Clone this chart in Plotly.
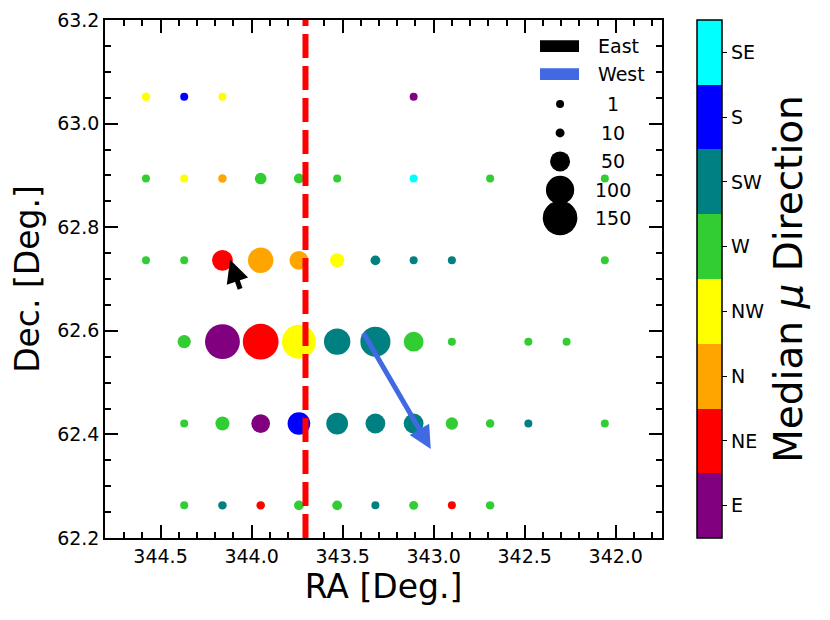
import plotly.graph_objects as go

# grid of field centres
ra_cols = [344.58, 344.37, 344.16, 343.95, 343.74, 343.53, 343.32,
           343.11, 342.90, 342.69, 342.48, 342.27, 342.06]
dec_rows = [63.052, 62.894, 62.736, 62.579, 62.421, 62.263]

directions = ['E', 'NE', 'N', 'NW', 'W', 'SW', 'S', 'SE']
dir_colors = ['purple', 'red', 'orange', 'yellow', 'limegreen', 'teal', 'blue', 'cyan']

# for every row: occupied columns, median direction, number of stars
row_cols = [
    [0, 1, 2, 7],
    [0, 1, 2, 3, 4, 5, 7, 9, 12],
    [0, 1, 2, 3, 4, 5, 6, 7, 8, 12],
    [1, 2, 3, 4, 5, 6, 7, 8, 10, 11],
    [1, 2, 3, 4, 5, 6, 7, 8, 9, 10, 12],
    [1, 2, 3, 4, 5, 6, 7, 8, 9],
]
row_dirs = [
    ['NW', 'S', 'NW', 'E'],
    ['W', 'NW', 'N', 'W', 'W', 'W', 'SE', 'W', 'W'],
    ['W', 'W', 'NE', 'N', 'N', 'NW', 'SW', 'SW', 'SW', 'W'],
    ['W', 'E', 'NE', 'NW', 'SW', 'SW', 'W', 'W', 'W', 'W'],
    ['W', 'W', 'E', 'S', 'SW', 'SW', 'SW', 'W', 'W', 'SW', 'W'],
    ['W', 'SW', 'NE', 'W', 'W', 'SW', 'W', 'NE', 'W'],
]
row_counts = [
    [9, 3, 1, 1],
    [2, 6, 9, 17, 13, 6, 4, 2, 2],
    [6, 6, 54, 81, 44, 25, 12, 3, 2, 2],
    [22, 152, 160, 144, 87, 113, 49, 7, 4, 4],
    [6, 25, 44, 64, 59, 49, 49, 19, 9, 4, 4],
    [4, 9, 9, 12, 12, 6, 10, 6, 9],
]

size_legend = [1, 10, 50, 100, 150]

# median proper motion arrows (tail -> tip)
east_tail = (344.060, 62.678)
east_tip = (344.118, 62.737)
west_tail = (343.390, 62.598)
west_tip = (343.016, 62.372)

ra_split = 343.704

FONT = "DejaVu Sans"
SIZEREF = 0.25

xs, ys, cs, ns = [], [], [], []
for dec, cols, dirs, cnts in zip(dec_rows, row_cols, row_dirs, row_counts):
    for c, d, n in zip(cols, dirs, cnts):
        xs.append(ra_cols[c])
        ys.append(dec)
        cs.append(directions.index(d))
        ns.append(n)

colorscale = []
for i, col in enumerate(dir_colors):
    colorscale.append([i / len(dir_colors), col])
    colorscale.append([(i + 1) / len(dir_colors), col])

fig = go.Figure()
fig.add_trace(go.Scatter(
    x=xs, y=ys, mode='markers', showlegend=False, hoverinfo='skip',
    marker=dict(size=ns, sizemode='area', sizeref=SIZEREF, sizemin=4, opacity=1,
                color=cs, colorscale=colorscale, cmin=-0.5, cmax=7.5,
                line=dict(width=0),
                colorbar=dict(
                    x=1.0634, xanchor='left', xpad=0, y=0.5, ypad=0,
                    len=1, thickness=25, outlinewidth=1.5, outlinecolor='black',
                    tickvals=list(range(len(directions))), ticktext=directions,
                    ticks='outside', ticklen=5, tickwidth=1.2, tickcolor='black',
                    tickfont=dict(family=FONT, size=19, color='black'),
                    title=dict(text='Median <i>μ</i> Direction', side='right',
                               font=dict(family=FONT, size=39, color='black')),
                ))))

# size legend drawn on a hidden overlay axis
leg_y = [0.838, 0.782, 0.727, 0.672, 0.618]
fig.add_trace(go.Scatter(
    x=[0.817] * len(size_legend), y=leg_y, mode='markers', xaxis='x2', yaxis='y2',
    showlegend=False, hoverinfo='skip',
    marker=dict(size=size_legend, sizemode='area', sizeref=SIZEREF, sizemin=4, opacity=1,
                color='black', line=dict(width=0))))
for val, yy in zip(size_legend, leg_y):
    fig.add_annotation(x=0.9125, y=yy, xref='x domain', yref='y domain', text=str(val),
                       showarrow=False, xanchor='center', yanchor='middle',
                       font=dict(family=FONT, size=19, color='black'))

for label, col, y0, y1 in [('East', 'black', 0.938, 0.961), ('West', 'royalblue', 0.884, 0.907)]:
    fig.add_shape(type='rect', xref='x domain', yref='y domain', x0=0.781, x1=0.851,
                  y0=y0, y1=y1, fillcolor=col, line=dict(width=0))
    fig.add_annotation(x=0.882, y=(y0 + y1) / 2, xref='x domain', yref='y domain', text=label,
                       showarrow=False, xanchor='left', yanchor='middle',
                       font=dict(family=FONT, size=19, color='black'))

# dividing line
fig.add_shape(type='line', xref='x', yref='y domain', x0=ra_split, x1=ra_split, y0=0, y1=1,
              line=dict(color='red', width=6, dash='24px,8px'))

for tail, tip, col in [(east_tail, east_tip, 'black'), (west_tail, west_tip, 'royalblue')]:
    fig.add_annotation(x=tip[0], y=tip[1], ax=tail[0], ay=tail[1], xref='x', yref='y',
                       axref='x', ayref='y', text='', showarrow=True, arrowhead=2,
                       arrowsize=0.9, arrowwidth=5, arrowcolor=col)

axis_style = dict(showline=True, linecolor='black', linewidth=1.5, mirror='allticks',
                  ticks='inside', ticklen=13, tickwidth=1.5, tickcolor='black',
                  showgrid=False, zeroline=False, tickformat='.1f', automargin=False,
                  tickfont=dict(family=FONT, size=19, color='black'))

fig.update_layout(
    width=830, height=620,
    margin=dict(l=97, r=176, t=12, b=90),
    plot_bgcolor='white', paper_bgcolor='white',
    xaxis=dict(range=[344.805, 341.746], dtick=0.5, tick0=342.0,
               minor=dict(ticks='inside', ticklen=6, tickwidth=1.5, tickcolor='black', dtick=0.1),
               title=dict(text='RA [Deg.]', standoff=8,
                          font=dict(family=FONT, size=33, color='black')),
               **axis_style),
    yaxis=dict(range=[62.2, 63.2], dtick=0.2, tick0=62.2,
               minor=dict(ticks='inside', ticklen=6, tickwidth=1.5, tickcolor='black', dtick=0.05),
               title=dict(text='Dec. [Deg.]', standoff=8,
                          font=dict(family=FONT, size=33, color='black')),
               **axis_style),
    xaxis2=dict(overlaying='x', range=[0, 1], visible=False),
    yaxis2=dict(overlaying='y', range=[0, 1], visible=False),
)

fig.write_html("out.html")
